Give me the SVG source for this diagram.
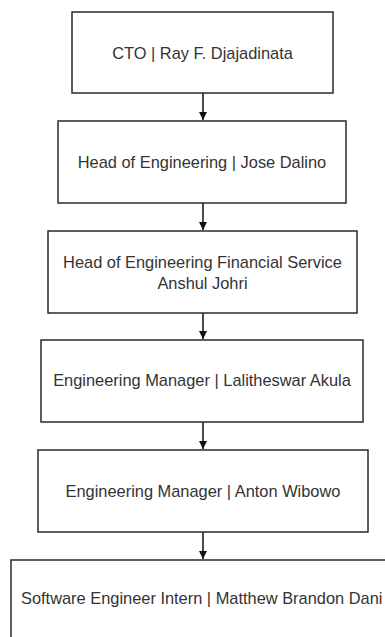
<svg xmlns="http://www.w3.org/2000/svg" width="385" height="637" viewBox="0 0 385 637">
<style>
.box{fill:#ffffff;stroke:#2a2a2a;stroke-width:1.5}
.lbl{font-family:"Liberation Sans",Arial,sans-serif;font-size:16.4px;fill:#333333;text-anchor:middle}
.edge{stroke:#111111;stroke-width:1.5;fill:none}
</style>
<defs>
<marker id="arr" viewBox="0 0 10 10" refX="10" refY="5" markerWidth="5.5" markerHeight="5.5" markerUnits="strokeWidth" orient="auto">
<path d="M0,0 L10,5 L0,10 Z" fill="#111111"/>
</marker>
</defs>
<rect width="385" height="637" fill="#ffffff"/>
<g id="connectors">
<line class="edge" x1="203" y1="93" x2="203" y2="120" marker-end="url(#arr)"/>
<line class="edge" x1="203" y1="203" x2="203" y2="230" marker-end="url(#arr)"/>
<line class="edge" x1="203" y1="313" x2="203" y2="339" marker-end="url(#arr)"/>
<line class="edge" x1="203" y1="422" x2="203" y2="449" marker-end="url(#arr)"/>
<line class="edge" x1="203" y1="532" x2="203" y2="559" marker-end="url(#arr)"/>
</g>
<g id="cto">
<rect class="box" x="72" y="12" width="261" height="81"/>
<text class="lbl" x="202.5" y="58.5">CTO | Ray F. Djajadinata</text>
</g>
<g id="head-eng">
<rect class="box" x="58" y="121" width="288" height="82"/>
<text class="lbl" x="202" y="168">Head of Engineering | Jose Dalino</text>
</g>
<g id="head-eng-fs">
<rect class="box" x="48" y="231" width="309" height="82"/>
<text class="lbl" x="202.5" y="267.5">Head of Engineering Financial Service</text>
<text class="lbl" x="202.5" y="288.5">Anshul Johri</text>
</g>
<g id="em-lalitheswar">
<rect class="box" x="41" y="340" width="322" height="82"/>
<text class="lbl" x="202" y="386">Engineering Manager | Lalitheswar Akula</text>
</g>
<g id="em-anton">
<rect class="box" x="38" y="450" width="330" height="82"/>
<text class="lbl" x="203" y="497">Engineering Manager | Anton Wibowo</text>
</g>
<g id="intern">
<rect class="box" x="11" y="560" width="390" height="90"/>
<text class="lbl" x="21" y="604" style="text-anchor:start">Software Engineer Intern | Matthew Brandon Dani</text>
</g>
</svg>
